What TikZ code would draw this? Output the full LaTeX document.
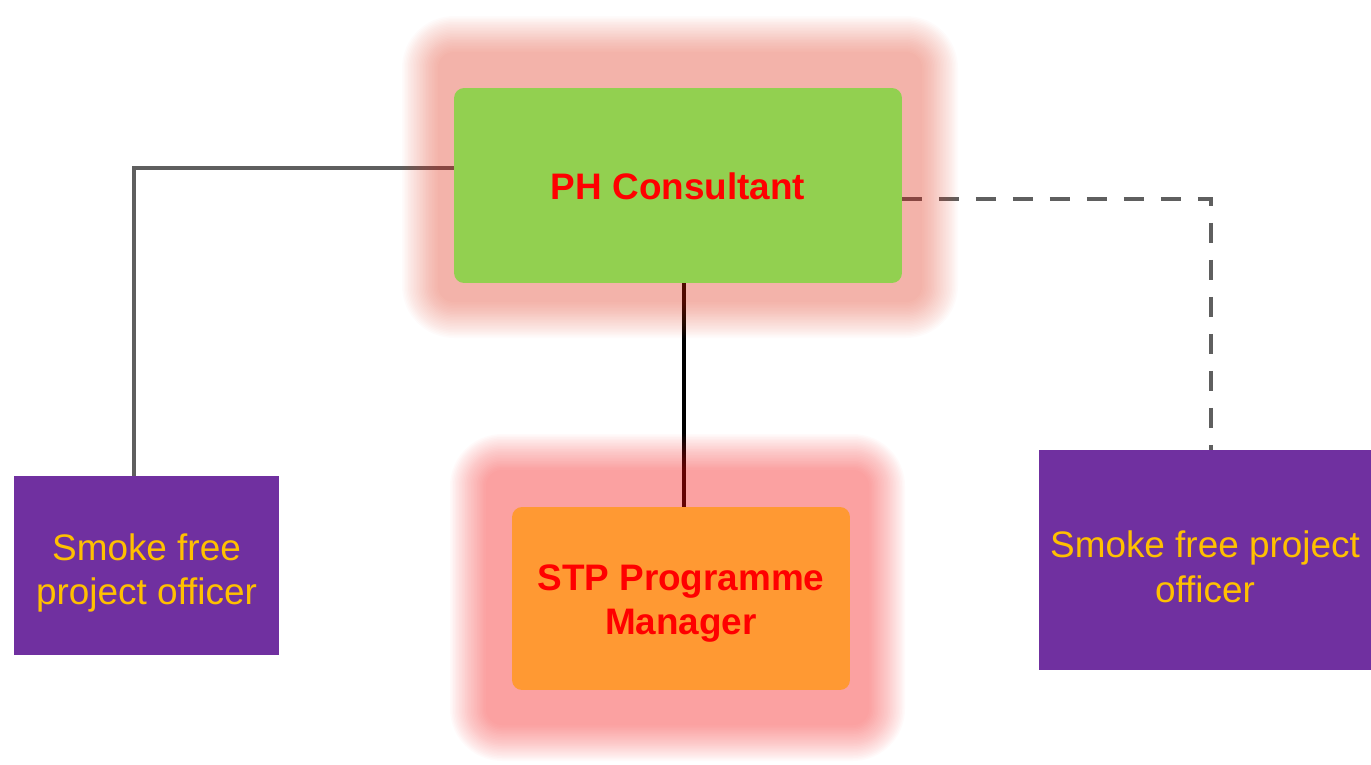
\documentclass[tikz,border=0pt]{standalone}
\usepackage{fontspec}
\setmainfont{Liberation Sans}
\definecolor{phgreen}{HTML}{92D050}
\definecolor{stporange}{HTML}{FF9933}
\definecolor{purp}{HTML}{7030A0}
\definecolor{gold}{HTML}{FFC000}
\definecolor{linegray}{HTML}{5F5F5F}
\definecolor{glowA}{RGB}{225,60,35}
\definecolor{glowB}{RGB}{245,45,45}
\definecolor{txtred}{HTML}{FF0000}
\newcommand\myglow[7]{%
  \foreach \k in {0,...,24}{%
    \pgfmathsetmacro\e{#6*\k/24}%
    \pgfmathsetmacro\r{(16+\e)*0.02}%
    \fill[#5, opacity=#7, rounded corners=\r cm] (#1-\e,#2-\e) rectangle (#3+\e,#4+\e);
  }}
\tikzset{
  boxbase/.style={inner sep=0pt, outer sep=0pt, align=center, font=\fontsize{21}{25.5}\selectfont},
  mainbox/.style={boxbase, rounded corners=0.2cm},
  maintext/.style={boxbase, text=txtred, font=\fontsize{21}{25.5}\selectfont\bfseries},
  officer/.style={boxbase, fill=purp},
  offtext/.style={boxbase, text=gold},
  conn/.style={line width=0.08cm, linegray},
}
\begin{document}
\begin{tikzpicture}[x=0.02cm, y=-0.02cm]
\useasboundingbox (0,0) rectangle (1371,764);
% node placeholders (for connectors)
\path node[mainbox, minimum width=8.96cm, minimum height=3.9cm] (ph) at (678,185.5) {};
\path node[mainbox, minimum width=6.76cm, minimum height=3.66cm] (stp) at (681,598.5) {};
\node[officer, minimum width=5.3cm, minimum height=3.58cm] (lft) at (146.5,565.5) {};
\node[officer, minimum width=6.64cm, minimum height=4.4cm] (rgt) at (1205,560) {};
\node[offtext] (lfttext) at ([yshift=-0.15cm]lft.center) {Smoke free\\project officer};
\node[offtext] (rgttext) at ([yshift=-0.13cm]rgt.center) {Smoke free project\\officer};
% connectors
\draw[conn] ([yshift=0.35cm]ph.west) -| ([xshift=-0.25cm]lft.north);
\draw[line width=0.08cm, black] ([xshift=0.12cm]ph.south) -- ([xshift=0.12cm]ph.south |- stp.north);
\draw[conn, dash pattern=on 0.4cm off 0.34cm] ([yshift=-0.27cm]ph.east) -| ([xshift=0.12cm]rgt.north);
% glows
\myglow{438}{52}{922}{302}{glowA}{36}{0.0202}
\myglow{486}{470}{869}{725}{glowB}{36}{0.0236}
% boxes on top
\node[mainbox, fill=phgreen, minimum width=8.96cm, minimum height=3.9cm] (phbox) at (ph.center) {};
\node[maintext] (phtext) at ([yshift=-0.02cm]ph.center) {PH Consultant};
\node[mainbox, fill=stporange, minimum width=6.76cm, minimum height=3.66cm] (stpbox) at (stp.center) {};
\node[maintext] (stptext) at ([yshift=-0.1cm]stp.center) {STP Programme\\Manager};
\end{tikzpicture}
\end{document}
